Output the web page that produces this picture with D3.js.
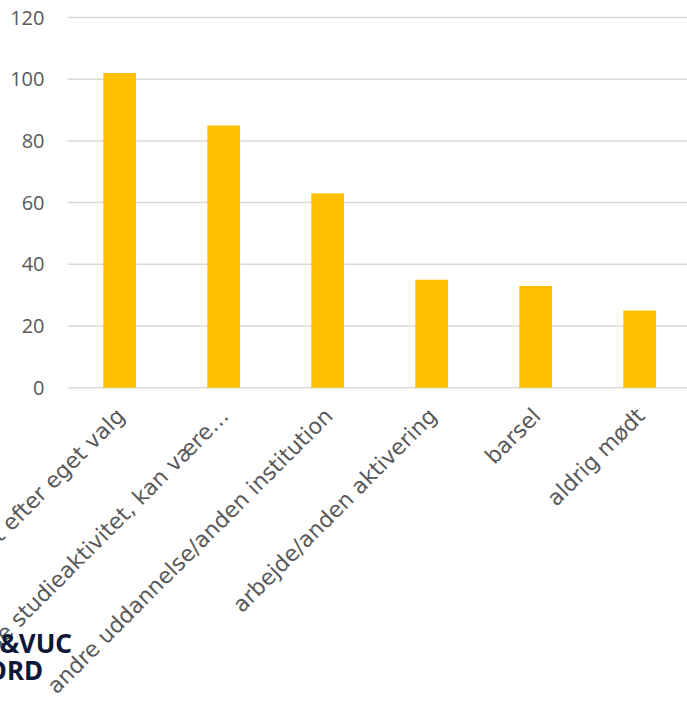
<!DOCTYPE html>
<html>
<head>
<meta charset="utf-8">
<script src="https://cdn.jsdelivr.net/npm/d3@7.9.0/dist/d3.min.js"></script>
<style>
  html, body { margin: 0; padding: 0; background: #fff; overflow: hidden; }
  svg { display: block; }
</style>
</head>
<body>
<svg id="chart" width="687" height="704"></svg>
<script>
const categories = [
  'Udmeldt efter eget valg',
  'Manglende studieaktivitet, kan være…',
  'andre uddannelse/anden institution',
  'arbejde/anden aktivering',
  'barsel',
  'aldrig mødt'
];
const values = [102, 85, 63, 35, 33, 25];
const yTicks = [0, 20, 40, 60, 80, 100, 120];

const svg = d3.select('#chart');

const x = d3.scaleBand()
  .domain(categories)
  .range([67.7, 691.7])
  .paddingInner(0.685)
  .paddingOuter(0.3425);

const y = d3.scaleLinear()
  .domain([0, 120])
  .range([387.7, 17.5]);

// gridlines
svg.append('g')
  .selectAll('line')
  .data(yTicks)
  .enter()
  .append('line')
  .attr('x1', 67.7)
  .attr('x2', 687)
  .attr('y1', d => y(d))
  .attr('y2', d => y(d))
  .attr('stroke', '#d9d9d9')
  .attr('stroke-width', 1.5);

// y tick labels
svg.append('g')
  .selectAll('text')
  .data(yTicks)
  .enter()
  .append('text')
  .attr('x', 44.5)
  .attr('y', d => y(d))
  .attr('dy', '0.35em')
  .attr('text-anchor', 'end')
  .attr('font-family', '"Open Sans", sans-serif')
  .attr('font-size', 20)
  .attr('fill', '#595959')
  .text(d => d);

// bars
svg.append('g')
  .selectAll('rect')
  .data(values)
  .enter()
  .append('rect')
  .attr('x', (d, i) => x(categories[i]))
  .attr('width', x.bandwidth())
  .attr('y', d => y(d))
  .attr('height', d => y(0) - y(d))
  .attr('fill', '#ffc000');

// category labels, rotated
svg.append('g')
  .selectAll('text')
  .data(categories)
  .enter()
  .append('text')
  .attr('transform', d => `translate(${x(d) + x.bandwidth() / 2 + 1},412) rotate(-45)`)
  .attr('dy', '0.35em')
  .attr('text-anchor', 'end')
  .attr('font-family', '"DejaVu Sans", sans-serif')
  .attr('font-size', 22)
  .attr('fill', '#595959')
  .text(d => d);

// logo fragment
const logo = svg.append('g')
  .attr('font-family', '"Noto Sans", sans-serif')
  .attr('font-weight', 'bold')
  .attr('font-size', 26)
  .attr('fill', '#0d1838')
  .attr('text-anchor', 'end');
logo.append('text').attr('x', 72).attr('y', 653).text('HF&VUC');
logo.append('text').attr('x', 43).attr('y', 680).text('NORD');
</script>
</body>
</html>
